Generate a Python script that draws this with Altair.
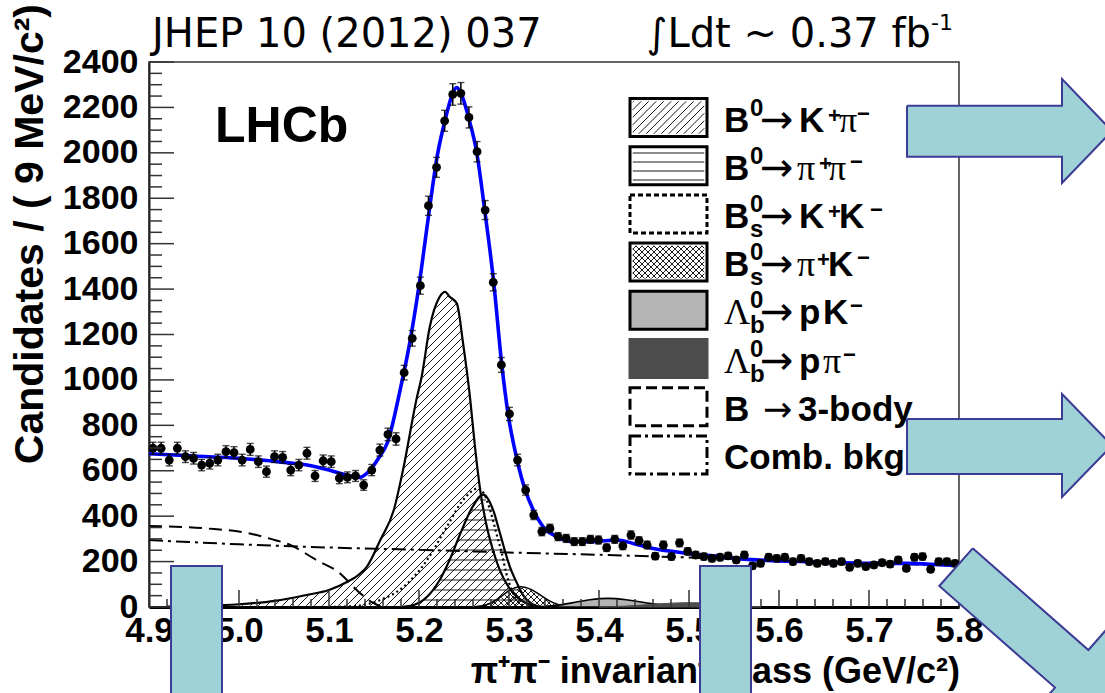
import altair as alt
import numpy as np
import pandas as pd

# ------------------------------------------------------------------
# Values
# ------------------------------------------------------------------
bin_centers = [round(4.9045 + 0.009 * i, 4) for i in range(100)]   # 9 MeV bins
counts = [699, 699, 647, 699, 662, 655, 625, 633, 647, 684,
          680, 647, 694, 640, 596, 662, 659, 603, 625, 677,
          577, 644, 640, 567, 571, 577, 537, 603, 691, 760,
          740, 1032, 1183, 1415, 1767, 1936, 2141, 2257, 2262, 2156,
          2005, 1748, 1430, 1066, 850, 647, 515, 405, 332, 346,
          310, 302, 288, 288, 298, 295, 261, 298, 269, 317,
          292, 273, 224, 273, 222, 282, 245, 229, 222, 214,
          219, 225, 207, 229, 181, 192, 219, 214, 219, 200,
          214, 200, 192, 200, 192, 200, 175, 192, 178, 185,
          195, 189, 207, 170, 219, 222, 166, 200, 200, 192]

total_m = [4.900, 4.950, 5.000, 5.050, 5.080, 5.100, 5.120, 5.134, 5.145, 5.155,
           5.165, 5.179, 5.190, 5.200, 5.212, 5.220, 5.229, 5.236, 5.242, 5.248,
           5.255, 5.264, 5.273, 5.283, 5.292, 5.299, 5.309, 5.318, 5.327, 5.338,
           5.353, 5.372, 5.394, 5.420, 5.438, 5.460, 5.483, 5.505, 5.527, 5.557,
           5.594, 5.631, 5.668, 5.705, 5.742, 5.779, 5.800]
total_v = [675, 665, 655, 637, 622, 603, 580, 571, 600, 655,
           725, 955, 1170, 1415, 1763, 1980, 2144, 2245, 2288, 2250,
           2156, 2005, 1748, 1430, 1066, 850, 647, 515, 427, 353,
           310, 288, 288, 295, 280, 258, 244, 233, 225, 212,
           204, 200, 195, 192, 192, 186, 182]

comb_m = [4.9, 5.0, 5.1, 5.2, 5.3, 5.4, 5.5, 5.6, 5.7, 5.8]
comb_v = [295, 276, 262, 252, 240, 230, 218, 205, 193, 182]

body3_m = [4.900, 4.964, 5.012, 5.035, 5.057, 5.086, 5.112, 5.131, 5.149, 5.160]
body3_v = [357, 346, 324, 300, 273, 207, 149, 74, 18, 0]

kpi_m = [4.920, 4.960, 5.000, 5.040, 5.075, 5.100, 5.120, 5.134, 5.142, 5.157,
         5.172, 5.183, 5.197, 5.203, 5.212, 5.223, 5.229, 5.234, 5.242, 5.249,
         5.257, 5.262, 5.268, 5.275, 5.283, 5.290, 5.300, 5.310, 5.320, 5.330]
kpi_v = [2, 5, 12, 27, 53, 75, 110, 145, 177, 295,
         427, 618, 911, 1015, 1234, 1366, 1388, 1366, 1337, 1161,
         911, 713, 515, 360, 240, 160, 85, 40, 15, 0]

pipi_m = [5.180, 5.195, 5.209, 5.223, 5.234, 5.246, 5.258, 5.2715, 5.283, 5.290,
          5.301, 5.309, 5.316, 5.325, 5.335]
pipi_v = [0, 10, 45, 119, 207, 324, 430, 495, 420, 324,
          177, 104, 50, 15, 0]

kk_m = [5.100, 5.130, 5.157, 5.183, 5.209, 5.231, 5.249, 5.266, 5.272, 5.279,
        5.286, 5.292, 5.297, 5.303, 5.309, 5.315, 5.322]
kk_v = [0, 5, 31, 89, 207, 354, 471, 522, 500, 427,
        324, 236, 148, 75, 31, 8, 0]

pik_m = [5.260, 5.270, 5.280, 5.290, 5.300, 5.313, 5.325, 5.335, 5.345, 5.355, 5.365, 5.375]
pik_v = [0, 5, 18, 42, 72, 89, 76, 52, 27, 10, 2, 0]

pk_m = [5.330, 5.350, 5.370, 5.390, 5.410, 5.430, 5.445, 5.460, 5.475, 5.490, 5.500]
pk_v = [0, 6, 18, 32, 38, 32, 23, 14, 7, 2, 0]

ppi_m = [5.400, 5.430, 5.460, 5.480, 5.500, 5.520, 5.540, 5.560, 5.580]
ppi_v = [0, 4, 12, 17, 19, 17, 10, 4, 0]

x_ticks_major = [4.9, 5.0, 5.1, 5.2, 5.3, 5.4, 5.5, 5.6, 5.7, 5.8]
y_ticks_major = [0, 200, 400, 600, 800, 1000, 1200, 1400, 1600, 1800, 2000, 2200, 2400]

# ------------------------------------------------------------------
# Layout (page pixels) and styles
# ------------------------------------------------------------------
X0, Y0, TOP = 149.0, 607.0, 62.0
W, H = 810, 545
KX = W / 0.9
KY = H / 2400.0
SANS, SERIF, ARROWF, COMIC = "Liberation Sans", "Liberation Serif", "DejaVu Sans", "DejaVu Sans"
TEAL, EDGE = "#9fd2d6", "#3c3c96"


def m_of(px):
    return 4.9 + (np.asarray(px, float) - X0) / KX


def v_of(py):
    return (Y0 - np.asarray(py, float)) / KY


xs = alt.Scale(domain=[4.9, 5.8], nice=False, zero=False)
ys = alt.Scale(domain=[0, 2400], nice=False, zero=False)


def X(f="m", axis=None):
    return alt.X(f + ":Q", scale=xs, axis=axis)


def Y(f="v", axis=None):
    return alt.Y(f + ":Q", scale=ys, axis=axis)


# ---------------- hatching helpers (derived from the curves) ----------------
def runs(xx, yy, mask):
    out = []
    if not mask.any():
        return out
    d = np.diff(mask.astype(int))
    starts = list(np.where(d == 1)[0] + 1)
    ends = list(np.where(d == -1)[0])
    if mask[0]:
        starts = [0] + starts
    if mask[-1]:
        ends = ends + [len(mask) - 1]
    for a, b in zip(starts, ends):
        if b > a:
            out.append((xx[a], yy[a], xx[b], yy[b]))
    return out


def hatch(inside, box, kind, spacing, step=0.25):
    x_lo, x_hi, y_lo, y_hi = box
    xx = np.arange(x_lo, x_hi + step, step)
    segs = []
    if kind == "-":
        for c in np.arange(np.ceil(y_lo / spacing) * spacing, y_hi, spacing):
            yy = np.full_like(xx, c)
            segs += runs(xx, yy, inside(xx, yy))
    elif kind == "/":
        for c in np.arange(np.ceil((x_lo + y_lo) / spacing) * spacing, x_hi + y_hi, spacing):
            yy = c - xx
            segs += runs(xx, yy, inside(xx, yy))
    else:
        for c in np.arange(np.ceil((y_lo - x_hi) / spacing) * spacing, y_hi - x_lo, spacing):
            yy = xx + c
            segs += runs(xx, yy, inside(xx, yy))
    return segs


def under_curve(ms, vs):
    px = X0 + (np.array(ms, float) - 4.9) * KX
    top = Y0 - np.array(vs, float) * KY

    def inside(x, y):
        t = np.interp(x, px, top, left=Y0, right=Y0)
        return (y < Y0 - 1.0) & (y > t + 0.8)
    return inside, (px.min(), px.max(), top.min(), Y0)


def in_box(x0, x1, y0, y1, inset=2.5):
    def inside(x, y):
        return (x > x0 + inset) & (x < x1 - inset) & (y > y0 + inset) & (y < y1 - inset)
    return inside, (x0, x1, y0, y1)


def seg_df(segs):
    a = np.array(segs, float) if segs else np.zeros((0, 4))
    return pd.DataFrame({"m": m_of(a[:, 0]), "v": v_of(a[:, 1]),
                         "m2": m_of(a[:, 2]), "v2": v_of(a[:, 3])})


def rules(df, color="#1a1a1a", width=1.0):
    return alt.Chart(df).mark_rule(color=color, strokeWidth=width).encode(
        x=X("m"), y=Y("v"), x2=alt.X2("m2"), y2=alt.Y2("v2"))


def curve(ms, vs, color="black", width=2.0, dash=None):
    kw = dict(color=color, strokeWidth=width, interpolate="monotone")
    if dash:
        kw["strokeDash"] = dash
    return alt.Chart(pd.DataFrame({"m": ms, "v": vs})).mark_line(**kw).encode(x=X(), y=Y())


def texts(rows, font, weight="normal", align="left", angle=0, color="black"):
    df = pd.DataFrame(rows, columns=["t", "px", "py", "fs"])
    df["m"] = m_of(df["px"])
    df["v"] = v_of(df["py"])
    return alt.Chart(df).mark_text(font=font, fontWeight=weight, align=align,
                                   baseline="alphabetic", angle=angle, color=color).encode(
        x=X(), y=Y(), text="t:N", size=alt.Size("fs:Q", scale=None))


layers = []

# ---------------- axes (labels + domains) ----------------
xaxis = alt.Axis(values=x_ticks_major, format=".1f", labelFont=SANS, labelFontWeight="bold",
                 labelFontSize=35, labelColor="black", labelPadding=6, labelFlush=False,
                 labelOverlap=False, ticks=False, tickSize=0, domainColor="black",
                 domainWidth=3, grid=False, title=None, orient="bottom")
yaxis = alt.Axis(values=y_ticks_major, format="d", labelFont=SANS, labelFontWeight="bold",
                 labelFontSize=34, labelColor="black", labelPadding=11, labelFlush=False,
                 labelOverlap=False, ticks=False, tickSize=0, domainColor="#222",
                 domainWidth=2, grid=False, title=None, orient="left")
layers.append(alt.Chart(pd.DataFrame({"m": [4.9, 5.8], "v": [0, 2400]})).mark_point(opacity=0).encode(
    x=X("m", xaxis), y=Y("v", yaxis)))

# ---------------- components ----------------
ins, box = under_curve(kpi_m, kpi_v)
layers.append(rules(seg_df(hatch(ins, box, "/", 8.0))))
layers.append(curve(kpi_m, kpi_v, width=2.2))

ins, box = under_curve(pipi_m, pipi_v)
layers.append(rules(seg_df(hatch(ins, box, "-", 10.0))))
layers.append(curve(pipi_m, pipi_v, width=2.2))

ins, box = under_curve(pik_m, pik_v)
layers.append(rules(seg_df(hatch(ins, box, "/", 6.0) + hatch(ins, box, "\\", 6.0))))
layers.append(curve(pik_m, pik_v, width=1.6))

layers.append(curve(kk_m, kk_v, width=2.2, dash=[2, 3]))

layers.append(alt.Chart(pd.DataFrame({"m": pk_m, "v": pk_v})).mark_area(
    interpolate="monotone", fill="#b4b4b4", stroke="black", strokeWidth=1.6).encode(x=X(), y=Y()))
layers.append(alt.Chart(pd.DataFrame({"m": ppi_m, "v": ppi_v})).mark_area(
    interpolate="monotone", fill="#4d4d4d", stroke="#4d4d4d", strokeWidth=1).encode(x=X(), y=Y()))

layers.append(curve(body3_m, body3_v, width=2.0, dash=[13, 7]))
layers.append(curve(comb_m, comb_v, width=2.0, dash=[14, 5, 3, 5]))

# ---------------- total fit and data ----------------
layers.append(curve(total_m, total_v, color="#0000ff", width=3.6))

err = np.sqrt(np.array(counts, float))
ddf = pd.DataFrame({"m": bin_centers, "v": counts,
                    "lo": np.array(counts) - err, "hi": np.array(counts) + err})
layers.append(alt.Chart(ddf).mark_rule(color="black", strokeWidth=1.5).encode(
    x=X("m"), y=Y("lo"), y2=alt.Y2("hi")))
capdf = pd.DataFrame({"m": bin_centers * 2, "v": list(ddf["lo"]) + list(ddf["hi"])})
layers.append(alt.Chart(capdf).mark_tick(orient="horizontal", size=7, thickness=1.4, color="black").encode(
    x=X("m"), y=Y("v")))
layers.append(alt.Chart(ddf).mark_circle(size=78, color="black", opacity=1).encode(x=X("m"), y=Y("v")))

# ---------------- inward ticks ----------------
y_minor = [v for v in range(0, 2401, 50) if v % 200]
x_minor = [round(4.9 + 0.02 * k, 2) for k in range(46) if k % 5]
layers.append(alt.Chart(pd.DataFrame({"v": y_ticks_major})).mark_rule(color="#333", strokeWidth=1.5).encode(
    y=Y("v"), x=alt.value(0), x2=alt.value(25)))
layers.append(alt.Chart(pd.DataFrame({"v": y_minor})).mark_rule(color="#333", strokeWidth=1.5).encode(
    y=Y("v"), x=alt.value(0), x2=alt.value(13)))
layers.append(alt.Chart(pd.DataFrame({"m": x_ticks_major})).mark_rule(color="#333", strokeWidth=1.5).encode(
    x=X("m"), y=alt.value(H), y2=alt.value(H - 17)))
layers.append(alt.Chart(pd.DataFrame({"m": x_minor})).mark_rule(color="#333", strokeWidth=1.5).encode(
    x=X("m"), y=alt.value(H), y2=alt.value(H - 8)))

# ---------------- LHCb label ----------------
layers.append(texts([("LHCb", 215, 142, 50)], SANS, "bold"))

# ---------------- legend ----------------
leg_c = [117.5 + 48.2 * k for k in range(8)]
BX0, BX1, BH = 630, 707, 19
box_styles = {0: ("white", "black"), 1: ("white", "black"), 3: ("white", "black"),
              4: ("#b4b4b4", "black"), 5: ("#4d4d4d", "#4d4d4d")}
boxes = [(k, f, s) for k, (f, s) in box_styles.items()]
bdf = pd.DataFrame({
    "m": m_of([BX0] * len(boxes)), "m2": m_of([BX1] * len(boxes)),
    "v": v_of([leg_c[k] - BH for k, _, _ in boxes]), "v2": v_of([leg_c[k] + BH for k, _, _ in boxes]),
    "fill": [f for _, f, _ in boxes], "stroke": [s for _, _, s in boxes]})
layers.append(alt.Chart(bdf).mark_rect(strokeWidth=3).encode(
    x=X("m"), x2=alt.X2("m2"), y=Y("v"), y2=alt.Y2("v2"),
    fill=alt.Fill("fill:N", scale=None), stroke=alt.Stroke("stroke:N", scale=None)))
for k, dash in [(2, [5, 3]), (6, [11, 5]), (7, [11, 4, 3, 4])]:
    one = pd.DataFrame({"m": m_of([BX0]), "m2": m_of([BX1]),
                        "v": v_of([leg_c[k] - BH]), "v2": v_of([leg_c[k] + BH])})
    layers.append(alt.Chart(one).mark_rect(fill="white", stroke="black", strokeWidth=3, strokeDash=dash).encode(
        x=X("m"), x2=alt.X2("m2"), y=Y("v"), y2=alt.Y2("v2")))
sw = []
ins, box = in_box(BX0, BX1, leg_c[0] - BH, leg_c[0] + BH)
sw += hatch(ins, box, "/", 7.5)
ins, box = in_box(BX0, BX1, leg_c[1] - BH, leg_c[1] + BH)
sw += hatch(ins, box, "-", 9.0)
ins, box = in_box(BX0, BX1, leg_c[3] - BH, leg_c[3] + BH)
sw += hatch(ins, box, "/", 6.0) + hatch(ins, box, "\\", 6.0)
layers.append(rules(seg_df(sw)))

sans_b, serif_n, arrow_n = [], [], []
sup0 = -2
subs = 23
for k, pieces in enumerate([
    [("B", 724, "sb"), ("0", 750, "sup"), ("→", 760, "ar"), ("K", 799, "sb"), ("+", 828, "pl"),
     ("π", 839, "sr"), ("−", 857, "mi")],
    [("B", 724, "sb"), ("0", 750, "sup"), ("→", 760, "ar"), ("π", 797, "sr"), ("+", 819, "pl"),
     ("π", 828, "sr"), ("−", 850, "mi")],
    [("B", 724, "sb"), ("0", 750, "sup"), ("s", 750, "sub"), ("→", 760, "ar"), ("K", 799, "sb"),
     ("+", 828, "pl"), ("K", 839, "sb"), ("−", 870, "mi")],
    [("B", 724, "sb"), ("0", 750, "sup"), ("s", 750, "sub"), ("→", 760, "ar"), ("π", 797, "sr"),
     ("+", 817, "pl"), ("K", 828, "sb"), ("−", 857, "mi")],
    [("Λ", 724, "sr"), ("0", 750, "sup"), ("b", 750, "sub"), ("→", 760, "ar"), ("p", 799, "sb"),
     ("K", 823, "sb"), ("−", 850, "mi")],
    [("Λ", 724, "sr"), ("0", 750, "sup"), ("b", 750, "sub"), ("→", 760, "ar"), ("p", 799, "sb"),
     ("π", 823, "sr"), ("−", 843, "mi")],
    [("B", 724, "sb"), ("→", 763, "ar2"), ("3-body", 798, "sb")],
    [("Comb. bkg", 724, "sb")],
]):
    c = leg_c[k]
    for t, px, kind in pieces:
        if kind == "sb":
            sans_b.append((t, px, c + 14, 35))
        elif kind == "sr":
            serif_n.append((t, px, c + 14, 36))
        elif kind == "sup":
            sans_b.append((t, px, c + sup0, 24))
        elif kind == "sub":
            sans_b.append((t, px, c + subs, 24))
        elif kind == "pl":
            sans_b.append((t, px, c + 5, 22))
        elif kind == "mi":
            sans_b.append((t, px, c + 3, 22))
        elif kind == "ar":
            arrow_n.append((t, px, c + 15, 40))
        elif kind == "ar2":
            arrow_n.append((t, px, c + 14, 35))
layers.append(texts(sans_b, SANS, "bold"))
layers.append(texts(serif_n, SERIF, "normal"))
layers.append(texts(arrow_n, ARROWF, "normal"))

# ---------------- titles and page annotations ----------------
layers.append(texts([("π⁺π⁻ invariant mass (GeV/c²)", 960, 683, 36)], SANS, "bold", align="right"))
layers.append(texts([("Candidates / ( 9 MeV/c²)", 43, 4, 41)], SANS, "bold", align="right", angle=270))
layers.append(texts([("JHEP 10 (2012) 037", 152, 47, 40)], COMIC))
layers.append(texts([("∫Ldt ~ 0.37 fb", 931, 47, 40)], COMIC, align="right"))
layers.append(texts([("-1", 931, 30, 22)], COMIC))

# ---------------- overlay shapes (slide annotations) ----------------
polys = {
    "a1": [(907, 105.7), (1062, 105.7), (1062, 79), (1112, 131), (1062, 183), (1062, 156.7), (907, 156.7)],
    "a2": [(907, 419), (1062, 419), (1062, 394), (1112, 445.5), (1062, 497), (1062, 474), (907, 474)],
    "a3": [(972.7, 548.3), (1088.4, 650), (1105.9, 630.1), (1110.8, 703.2), (1037.5, 707.5),
           (1055, 687.6), (939.3, 586)],
}
prow = []
for pid, pts in polys.items():
    for j, (px, py) in enumerate(pts + [pts[0]]):
        prow.append((pid, j, float(m_of(px)), float(v_of(py))))
pdf = pd.DataFrame(prow, columns=["id", "k", "m", "v"])
layers.append(alt.Chart(pdf).mark_line(fill=TEAL, stroke=EDGE, strokeWidth=2, interpolate="linear").encode(
    x=X(), y=Y(), detail="id:N", order=alt.Order("k:Q")))
rdf = pd.DataFrame({"m": m_of([171, 700]), "m2": m_of([222, 751]),
                    "v": v_of([566, 566]), "v2": v_of([730, 730])})
layers.append(alt.Chart(rdf).mark_rect(fill=TEAL, stroke=EDGE, strokeWidth=2).encode(
    x=X("m"), x2=alt.X2("m2"), y=Y("v"), y2=alt.Y2("v2")))

chart = alt.layer(*layers).resolve_axis(x="independent", y="independent").properties(
    width=W, height=H,
    padding={"left": 149, "top": 62, "right": 146, "bottom": 86},
    autosize=alt.AutoSizeParams(type="none"),
    background="white",
).configure_view(stroke="#333", strokeWidth=1.5)

chart.save("out.html", embed_options={"renderer": "svg", "actions": False})
